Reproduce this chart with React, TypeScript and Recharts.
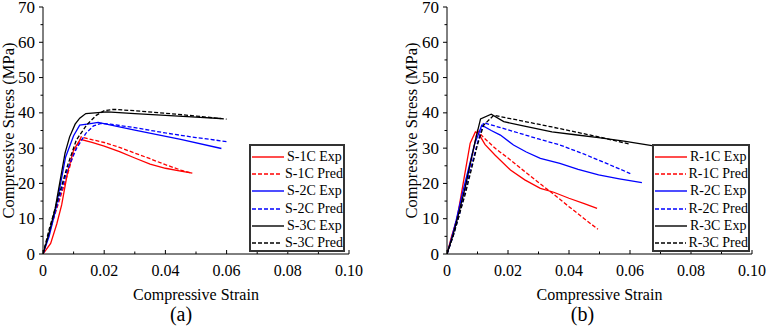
import { LineChart, Line, XAxis, YAxis, Legend, Label } from 'recharts';

const FONT = '"Liberation Serif", "Times New Roman", serif';

// axis ticks, only the major ones get a label
const xTicks = [0, 0.01, 0.02, 0.03, 0.04, 0.05, 0.06, 0.07, 0.08, 0.09, 0.1];
const xMajor = [0, 0.02, 0.04, 0.06, 0.08, 0.1];
const xLabels = ['0', '0.02', '0.04', '0.06', '0.08', '0.10'];
const yTicks = [0, 5, 10, 15, 20, 25, 30, 35, 40, 45, 50, 55, 60, 65, 70];
const yMajor = [0, 10, 20, 30, 40, 50, 60, 70];
const yLabels = ['0', '10', '20', '30', '40', '50', '60', '70'];

// (a) square columns
const s1cExpStrain = [0, 0.0025, 0.0045, 0.0061, 0.008, 0.01, 0.0122, 0.016, 0.02, 0.025, 0.03, 0.035, 0.04, 0.045, 0.0488];
const s1cExpStress = [0, 3, 8.5, 13.9, 23, 29.5, 32.5, 31.6, 30.6, 29, 27.2, 25.5, 24.3, 23.5, 22.9];
const s1cPredStrain = [0, 0.002, 0.004, 0.006, 0.008, 0.01, 0.0125, 0.016, 0.02, 0.025, 0.03, 0.035, 0.04, 0.045, 0.0482];
const s1cPredStress = [0, 6, 11.5, 17, 22.5, 28.5, 33.2, 32.4, 31.6, 30.2, 28.6, 27, 25.3, 23.8, 23];
const s2cExpStrain = [0, 0.002, 0.004, 0.0074, 0.01, 0.012, 0.015, 0.018, 0.03, 0.045, 0.0583];
const s2cExpStress = [0, 5, 12, 27.5, 33.5, 36.5, 36.9, 37.3, 35.1, 32.5, 29.9];
const s2cPredStrain = [0, 0.002, 0.004, 0.006, 0.008, 0.011, 0.014, 0.0165, 0.019, 0.022, 0.03, 0.04, 0.05, 0.0605];
const s2cPredStress = [0, 6, 12, 18, 24, 30, 34.2, 36.3, 37, 36.8, 35.8, 34.3, 33, 31.8];
const s3cExpStrain = [0, 0.002, 0.004, 0.0072, 0.0087, 0.0105, 0.012, 0.014, 0.021, 0.03, 0.04, 0.05, 0.058];
const s3cExpStress = [0, 6, 13, 28.6, 33.2, 36.8, 38.5, 39.8, 40.3, 39.8, 39.3, 38.8, 38.4];
const s3cPredStrain = [0, 0.002, 0.004, 0.006, 0.008, 0.0109, 0.0142, 0.0174, 0.02, 0.023, 0.03, 0.04, 0.05, 0.06];
const s3cPredStress = [0, 7, 13, 19, 25, 32.3, 36.5, 39.3, 40.6, 41, 40.6, 39.9, 39.1, 38.2];

// (b) round columns
const r1cExpStrain = [0, 0.0015, 0.0033, 0.0055, 0.0076, 0.0093, 0.0103, 0.0125, 0.0158, 0.0208, 0.0255, 0.0306, 0.035, 0.04, 0.045, 0.0492];
const r1cExpStress = [0, 5, 10, 21, 31.4, 34.6, 34.2, 31, 28, 23.8, 21, 18.6, 17.5, 15.8, 14.3, 12.9];
const r1cPredStrain = [0, 0.002, 0.004, 0.006, 0.008, 0.01, 0.012, 0.016, 0.02, 0.025, 0.031, 0.035, 0.04, 0.045, 0.0495];
const r1cPredStress = [0, 6, 12.5, 19, 27, 35, 33, 29.8, 27.2, 23.7, 19.6, 16.9, 13.4, 10, 7];
const r2cExpStrain = [0, 0.0015, 0.003, 0.005, 0.007, 0.009, 0.0114, 0.0145, 0.0175, 0.0218, 0.026, 0.0306, 0.037, 0.043, 0.0497, 0.0565, 0.0639];
const r2cExpStress = [0, 4.5, 9.5, 17, 24, 31, 36.5, 35, 33.7, 30.9, 28.9, 27.1, 25.7, 24, 22.4, 21.3, 20.2];
const r2cPredStrain = [0, 0.002, 0.004, 0.006, 0.008, 0.01, 0.012, 0.02, 0.03, 0.037, 0.045, 0.0525, 0.0601];
const r2cPredStress = [0, 5, 11, 18, 25, 31.5, 37.2, 35.2, 32.6, 30.9, 28.3, 25.6, 22.8];
const r3cExpStrain = [0, 0.002, 0.004, 0.006, 0.008, 0.0095, 0.011, 0.0145, 0.0186, 0.025, 0.0344, 0.042, 0.0497, 0.058, 0.0672];
const r3cExpStress = [0, 5.5, 12, 19, 27, 33, 38.3, 39.6, 37.5, 36.3, 34.6, 33.8, 33, 32, 30.7];
const r3cPredStrain = [0, 0.002, 0.004, 0.006, 0.008, 0.01, 0.012, 0.0153, 0.0235, 0.0344, 0.0497, 0.0601];
const r3cPredStress = [0, 5, 11, 17, 24, 31, 36.5, 39.3, 37.9, 36, 33.2, 31.1];

const zip = (strain: number[], stress: number[]) => strain.map((x, i) => ({ x, y: stress[i] }));

type Series = { name: string; color: string; dashed: boolean; data: { x: number; y: number }[] };

const seriesA: Series[] = [
  { name: 'S-1C Exp', color: '#ff0000', dashed: false, data: zip(s1cExpStrain, s1cExpStress) },
  { name: 'S-1C Pred', color: '#ff0000', dashed: true, data: zip(s1cPredStrain, s1cPredStress) },
  { name: 'S-2C Exp', color: '#0000ff', dashed: false, data: zip(s2cExpStrain, s2cExpStress) },
  { name: 'S-2C Pred', color: '#0000ff', dashed: true, data: zip(s2cPredStrain, s2cPredStress) },
  { name: 'S-3C Exp', color: '#000000', dashed: false, data: zip(s3cExpStrain, s3cExpStress) },
  { name: 'S-3C Pred', color: '#000000', dashed: true, data: zip(s3cPredStrain, s3cPredStress) },
];

const seriesB: Series[] = [
  { name: 'R-1C Exp', color: '#ff0000', dashed: false, data: zip(r1cExpStrain, r1cExpStress) },
  { name: 'R-1C Pred', color: '#ff0000', dashed: true, data: zip(r1cPredStrain, r1cPredStress) },
  { name: 'R-2C Exp', color: '#0000ff', dashed: false, data: zip(r2cExpStrain, r2cExpStress) },
  { name: 'R-2C Pred', color: '#0000ff', dashed: true, data: zip(r2cPredStrain, r2cPredStress) },
  { name: 'R-3C Exp', color: '#000000', dashed: false, data: zip(r3cExpStrain, r3cExpStress) },
  { name: 'R-3C Pred', color: '#000000', dashed: true, data: zip(r3cPredStrain, r3cPredStress) },
];

// x ticks point into the plot, y ticks point out of it
function XTick(props: any) {
  const { x, y, payload } = props;
  const i = xMajor.findIndex((v) => Math.abs(v - payload.value) < 1e-9);
  return (
    <g>
      <line x1={x} x2={x} y1={y} y2={y - (i >= 0 ? 4 : 2.5)} stroke="#000" />
      {i >= 0 && (
        <text x={x} y={y + 22} textAnchor="middle" fontSize={16} fontFamily={FONT} fill="#000">
          {xLabels[i]}
        </text>
      )}
    </g>
  );
}

function YTick(props: any) {
  const { x, y, payload } = props;
  const i = yMajor.indexOf(payload.value);
  return (
    <g>
      <line x1={x} x2={x - (i >= 0 ? 4 : 2.5)} y1={y} y2={y} stroke="#000" />
      {i >= 0 && (
        <text x={x - 8} y={y} dy="0.33em" textAnchor="end" fontSize={17} fontFamily={FONT} fill="#000">
          {yLabels[i]}
        </text>
      )}
    </g>
  );
}

function LegendBox({ payload, width }: any) {
  return (
    <div
      style={{
        width,
        height: 108,
        boxSizing: 'border-box',
        border: '2px solid #333',
        background: '#fff',
        paddingTop: 2,
        fontFamily: FONT,
        fontSize: 14,
        color: '#000',
      }}
    >
      {(payload || []).map((entry: any) => (
        <div key={entry.value} style={{ display: 'flex', alignItems: 'center', height: 17.3 }}>
          <svg width={32} height={4} style={{ marginLeft: 1, display: 'block' }}>
            <line
              x1={0}
              x2={32}
              y1={2}
              y2={2}
              stroke={entry.color}
              strokeWidth={1.4}
              strokeDasharray={entry.payload?.strokeDasharray}
            />
          </svg>
          <span style={{ marginLeft: 3, lineHeight: 1, whiteSpace: 'nowrap' }}>{entry.value}</span>
        </div>
      ))}
    </div>
  );
}

interface PanelProps {
  series: Series[];
  width: number;
  yAxisWidth: number;
  rightMargin: number;
  yLabelOffset: number;
  tag: string;
  tagDx: number;
  legendLeft: number;
  legendWidth: number;
}

function Panel({ series, width, yAxisWidth, rightMargin, yLabelOffset, tag, tagDx, legendLeft, legendWidth }: PanelProps) {
  return (
    <LineChart width={width} height={333} margin={{ top: 7, right: rightMargin, bottom: 0, left: 0 }}>
      <XAxis
        dataKey="x"
        type="number"
        domain={[0, 0.1]}
        ticks={xTicks}
        interval={0}
        height={79}
        tickSize={0}
        tickMargin={0}
        tickLine={false}
        tick={<XTick />}
        axisLine={{ stroke: '#000' }}
        allowDataOverflow
      >
        <Label value="Compressive Strain" position="insideTop" offset={35} fontSize={16} fontFamily={FONT} fill="#000" />
        <Label value={tag} position="insideTop" offset={53} dx={tagDx} fontSize={20} fontFamily={FONT} fill="#000" />
      </XAxis>
      <YAxis
        dataKey="y"
        type="number"
        domain={[0, 70]}
        ticks={yTicks}
        interval={0}
        width={yAxisWidth}
        tickSize={0}
        tickMargin={0}
        tickLine={false}
        tick={<YTick />}
        axisLine={{ stroke: '#000' }}
        allowDataOverflow
      >
        <Label
          value="Compressive Stress (MPa)"
          angle={-90}
          position="insideLeft"
          offset={yLabelOffset}
          fontSize={16.5}
          fontFamily={FONT}
          fill="#000"
          style={{ textAnchor: 'middle' }}
        />
      </YAxis>
      <Legend
        layout="vertical"
        align="center"
        verticalAlign="middle"
        wrapperStyle={{ left: legendLeft, top: 144, width: legendWidth, height: 108 }}
        content={(p: any) => <LegendBox payload={p.payload} width={legendWidth} />}
      />
      {series.map((s) => (
        <Line
          key={s.name}
          name={s.name}
          data={s.data}
          dataKey="y"
          type="linear"
          stroke={s.color}
          strokeWidth={1.3}
          strokeDasharray={s.dashed ? '4 2' : undefined}
          dot={false}
          activeDot={false}
          isAnimationActive={false}
        />
      ))}
    </LineChart>
  );
}

export default function App() {
  return (
    <div style={{ position: 'absolute', left: 0, top: 0, width: 767, height: 333, background: '#fff' }}>
      <div style={{ position: 'absolute', left: 0, top: 0 }}>
        <Panel
          series={seriesA}
          width={383}
          yAxisWidth={43}
          rightMargin={34}
          yLabelOffset={8}
          tag="(a)"
          tagDx={-15}
          legendLeft={249}
          legendWidth={96}
        />
      </div>
      <div style={{ position: 'absolute', left: 383, top: 0 }}>
        <Panel
          series={seriesB}
          width={384}
          yAxisWidth={64}
          rightMargin={15}
          yLabelOffset={28}
          tag="(b)"
          tagDx={-17}
          legendLeft={269}
          legendWidth={98}
        />
      </div>
    </div>
  );
}
